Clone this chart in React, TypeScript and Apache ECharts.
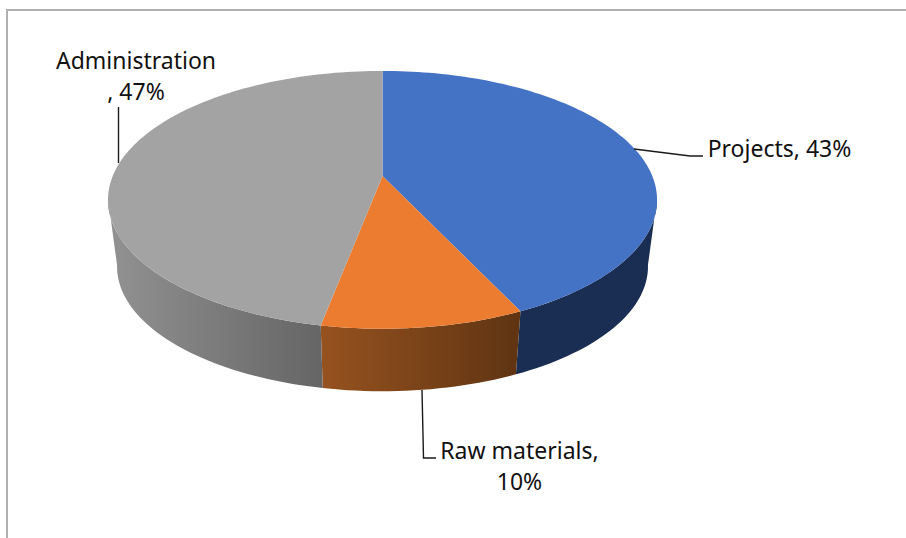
import React, { useEffect, useRef } from "react";
import * as echarts from "echarts";

const categories = ["Projects", "Raw materials", "Administration"];
const shares = [43, 10, 47];
const topColors = ["#4472C4", "#EC7C30", "#A3A3A3"];
const sideStops = [
  ["#1A2D52", "#1A2D52"],
  ["#96521F", "#5F3412"],
  ["#929292", "#656565"],
];
const labelTexts = ["Projects, 43%", "Raw materials,\n10%", "Administration\n, 47%"];
const labelAnchors = [
  [779.5, 147.5],
  [519.5, 465.5],
  [136, 75],
];
const leaders = [
  [[634, 149], [690, 156], [703, 156]],
  [[422, 390], [423.5, 458], [436, 458]],
  [[118.5, 163], [118.5, 107]],
];

const CX = 382.5;
const TOP = { y0: 176, r: 269.8, a: 124.5, scale: 1 };
const BOTTOM = { y0: 243.5, r: 269.8, a: 124.5, scale: 0.967 };
const K = 0.185;
const FONT = "'Noto Sans', sans-serif";

function project(deg: number, f: typeof TOP): number[] {
  const t = (deg * Math.PI) / 180;
  const X = Math.sin(t);
  const Y = Math.cos(t);
  const w = 1 + K * Y;
  return [CX + (f.scale * f.r * X) / w, f.y0 - (f.scale * f.a * Y) / w];
}

function arc(a: number, b: number, f: typeof TOP): number[][] {
  const n = Math.max(4, Math.ceil(Math.abs(b - a) / 1.5));
  const pts: number[][] = [];
  for (let i = 0; i <= n; i++) pts.push(project(a + ((b - a) * i) / n, f));
  return pts;
}

function sliceRange(i: number): [number, number] {
  const total = shares.reduce((s, v) => s + v, 0);
  const before = shares.slice(0, i).reduce((s, v) => s + v, 0);
  return [(before / total) * 360, ((before + shares[i]) / total) * 360];
}

function renderWall(params: any) {
  const i = params.dataIndex;
  const [a0, b0] = sliceRange(i);
  const a = Math.max(a0, 100);
  const b = Math.min(b0, 260);
  const top = arc(a, b, TOP);
  const bottom = arc(a, b, BOTTOM).reverse();
  const xs = [...top, ...bottom].map((p) => p[0]);
  const fill = new echarts.graphic.LinearGradient(
    Math.min(...xs), 0, Math.max(...xs), 0,
    [
      { offset: 0, color: sideStops[i][0] },
      { offset: 1, color: sideStops[i][1] },
    ],
    true
  );
  return { type: "polygon", shape: { points: [...top, ...bottom] }, style: { fill } };
}

function renderTop(params: any) {
  const i = params.dataIndex;
  const [a, b] = sliceRange(i);
  return {
    type: "polygon",
    shape: { points: [[CX, TOP.y0], ...arc(a, b, TOP)] },
    style: { fill: topColors[i] },
  };
}

export default function App() {
  const ref = useRef<HTMLDivElement>(null);
  useEffect(() => {
    document.body.style.margin = "0";
    const chart = echarts.init(ref.current!, null, { renderer: "svg" });
    const data = categories.map((name, i) => ({ name, value: shares[i] }));
    chart.setOption({
      animation: false,
      backgroundColor: "#ffffff",
      graphic: [
        {
          type: "polyline",
          shape: { points: [[7, 538], [7, 10], [906, 10]] },
          style: { stroke: "#B0B0B0", lineWidth: 2, fill: "none" },
          z: 1,
        },
        ...leaders.map((points) => ({
          type: "polyline",
          shape: { points },
          style: { stroke: "#1A1A1A", lineWidth: 1.4, fill: "none" },
          z: 5,
        })),
        ...labelTexts.map((text, i) => ({
          type: "text",
          x: labelAnchors[i][0],
          y: labelAnchors[i][1],
          style: {
            text,
            fill: "#111111",
            fontFamily: FONT,
            fontSize: 23,
            lineHeight: 31,
            align: "center",
            verticalAlign: "middle",
          },
          z: 6,
        })),
      ],
      series: [
        { type: "custom", coordinateSystem: "none", renderItem: renderWall, data, silent: true, z: 2 },
        { type: "custom", coordinateSystem: "none", renderItem: renderTop, data, silent: true, z: 3 },
      ],
    });
    return () => chart.dispose();
  }, []);
  return (
    <div
      ref={ref}
      style={{ position: "fixed", left: 0, top: 0, width: 906, height: 538, background: "#fff" }}
    />
  );
}
